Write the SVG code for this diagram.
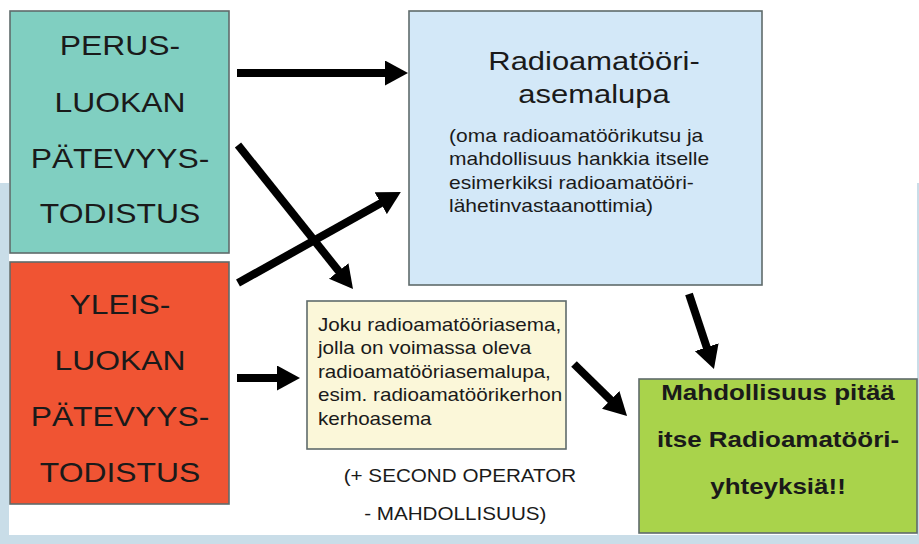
<svg xmlns="http://www.w3.org/2000/svg" width="919" height="544" viewBox="0 0 919 544">
<defs>
<style>
.box{stroke:#5f6b6b;stroke-width:1.6}
.big{font-family:"Liberation Sans",Arial,sans-serif;font-size:27px;fill:#1a1a1a}
.ttl{font-family:"Liberation Sans",Arial,sans-serif;font-size:26px;fill:#1a1a1a}
.sm{font-family:"Liberation Sans",Arial,sans-serif;font-size:17.5px;fill:#1a1a1a}
.gr{font-family:"Liberation Sans",Arial,sans-serif;font-size:22px;font-weight:bold;fill:#1a1a1a}
.arr{stroke:#000;stroke-width:8;fill:none;marker-end:url(#ah)}
</style>
<marker id="ah" viewBox="0 0 23 25" refX="6" refY="12.5" markerWidth="23" markerHeight="25" markerUnits="userSpaceOnUse" orient="auto">
<path d="M0,0 L23,12.5 L0,25 z" fill="#000"/>
</marker>
</defs>
<rect x="0" y="0" width="919" height="544" fill="#ffffff"/>
<rect x="0" y="183" width="919" height="361" fill="#c9dde8"/>
<rect x="9" y="0" width="908" height="535" fill="#ffffff"/>

<g id="perus">
<rect class="box" x="10" y="11" width="219" height="242" fill="#80cfc1"/>
<text class="big" text-anchor="middle" transform="matrix(1.18 0 0 1 120 0)"><tspan x="0" y="55">PERUS-</tspan><tspan x="0" y="112">LUOKAN</tspan><tspan x="0" y="168">PÄTEVYYS-</tspan><tspan x="0" y="223">TODISTUS</tspan></text>
</g>

<g id="yleis">
<rect class="box" x="10" y="262" width="219" height="242" fill="#f05433"/>
<text class="big" text-anchor="middle" transform="matrix(1.18 0 0 1 120 0)"><tspan x="0" y="314">YLEIS-</tspan><tspan x="0" y="370">LUOKAN</tspan><tspan x="0" y="426">PÄTEVYYS-</tspan><tspan x="0" y="482">TODISTUS</tspan></text>
</g>

<g id="asemalupa">
<rect class="box" x="409" y="11" width="353" height="274" fill="#d3e8f8"/>
<text class="ttl" text-anchor="middle" transform="matrix(1.19 0 0 1 594 0)"><tspan x="0" y="70">Radioamatööri-</tspan><tspan x="0" y="103">asemalupa</tspan></text>
<text class="sm" transform="matrix(1.2 0 0 1 449 0)"><tspan x="0" y="142">(oma radioamatöörikutsu ja</tspan><tspan x="0" y="165.5">mahdollisuus hankkia itselle</tspan><tspan x="0" y="189">esimerkiksi radioamatööri-</tspan><tspan x="0" y="212.5">lähetinvastaanottimia)</tspan></text>
</g>

<g id="kerhoasema">
<rect class="box" x="307" y="301" width="259" height="148" fill="#fbf7d9"/>
<text class="sm" transform="matrix(1.18 0 0 1 318 0)"><tspan x="0" y="331">Joku radioamatööriasema,</tspan><tspan x="0" y="354.5">jolla on voimassa oleva</tspan><tspan x="0" y="378">radioamatööriasemalupa,</tspan><tspan x="0" y="401.5">esim. radioamatöörikerhon</tspan><tspan x="0" y="425">kerhoasema</tspan></text>
</g>

<g id="second-operator">
<text class="sm" text-anchor="middle" transform="matrix(1.18 0 0 1 460 0)"><tspan x="0" y="482">(+ SECOND OPERATOR</tspan><tspan x="-4" y="520">- MAHDOLLISUUS)</tspan></text>
</g>

<g id="yhteyksia">
<rect class="box" x="639" y="379" width="278" height="154" fill="#a9d34b"/>
<text class="gr" text-anchor="middle" transform="matrix(1.18 0 0 1 778 0)"><tspan x="0" y="400">Mahdollisuus pitää</tspan><tspan x="0" y="447">itse Radioamatööri-</tspan><tspan x="0" y="494">yhteyksiä!!</tspan></text>
</g>

<g id="connectors">
<line class="arr" x1="237" y1="73" x2="391" y2="73"/>
<line class="arr" x1="238" y1="145" x2="342.4" y2="275.7"/>
<line class="arr" x1="238" y1="283" x2="386" y2="200.3"/>
<line class="arr" x1="237" y1="378" x2="283" y2="378"/>
<line class="arr" x1="574" y1="364" x2="614.9" y2="404.1"/>
<line class="arr" x1="689" y1="294" x2="708.6" y2="352.9"/>
</g>
</svg>
